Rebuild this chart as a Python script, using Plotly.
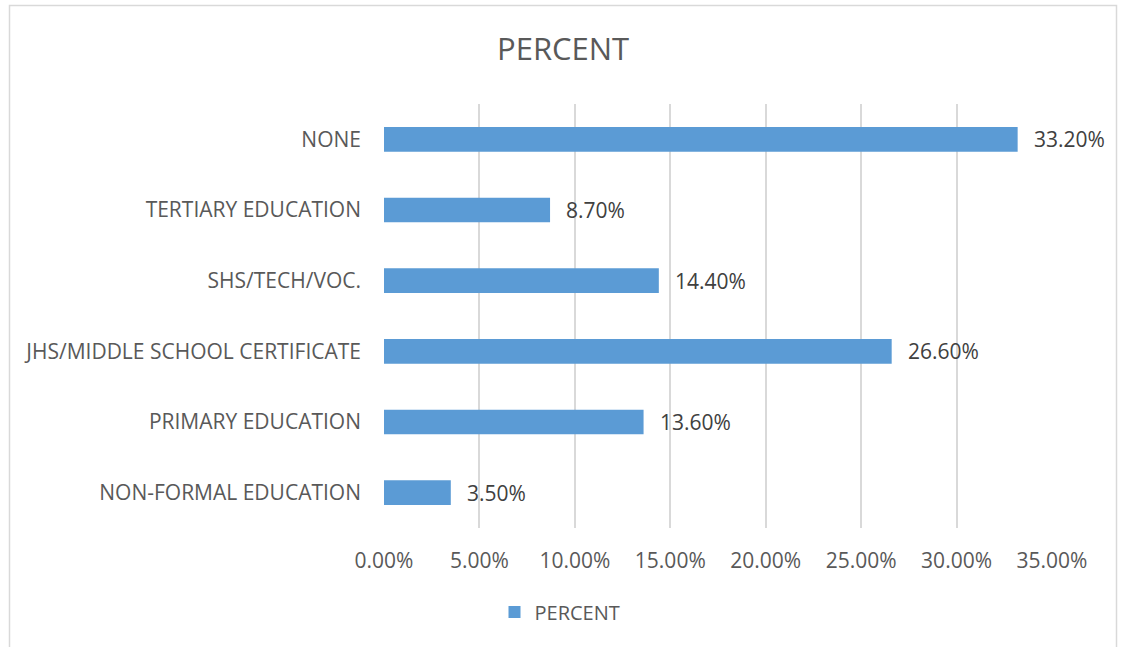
import plotly.graph_objects as go

# Education levels, listed bottom to top as they appear on the axis
categories = [
    "NON-FORMAL EDUCATION",
    "PRIMARY EDUCATION",
    "JHS/MIDDLE SCHOOL CERTIFICATE",
    "SHS/TECH/VOC.",
    "TERTIARY EDUCATION",
    "NONE",
]
percent = [3.5, 13.6, 26.6, 14.4, 8.7, 33.2]
x_ticks = [0, 5, 10, 15, 20, 25, 30, 35]
x_tick_labels = ["0.00%", "5.00%", "10.00%", "15.00%", "20.00%", "25.00%", "30.00%", "35.00%"]

BAR = "#5B9BD5"
TEXT = "#595959"
GRID = "#D9D9D9"
FONT = "Open Sans"

W, H = 1124, 647
L, R, T, B = 384, 72, 104, 119
pw, ph = W - L - R, H - T - B

def px_to_paper_x(px):
    return (px - L) / pw

def px_to_paper_y(py):
    return (H - B - py) / ph

fig = go.Figure()
fig.add_trace(go.Bar(
    x=percent,
    y=categories,
    orientation="h",
    width=0.35,
    marker=dict(color=BAR, line=dict(width=0)),
    name="PERCENT",
    showlegend=True,
))

# value labels to the right of each bar
for c, v in zip(categories, percent):
    fig.add_annotation(
        x=v, y=c, xref="x", yref="y",
        text=f"{v:.2f}%", showarrow=False,
        xanchor="left", yanchor="middle", xshift=14,
        font=dict(family=FONT, size=21, color="#404040"),
    )

# outer chart border
fig.add_shape(
    type="rect", xref="paper", yref="paper",
    x0=px_to_paper_x(9.5), x1=px_to_paper_x(1116.5),
    y0=px_to_paper_y(660), y1=px_to_paper_y(5.5),
    line=dict(color=GRID, width=1.5), fillcolor="rgba(0,0,0,0)",
    layer="below",
)

fig.update_layout(
    width=W, height=H,
    margin=dict(l=L, r=R, t=T, b=B, pad=0),
    paper_bgcolor="white", plot_bgcolor="white",
    font=dict(family=FONT, color=TEXT, size=20),
    title=dict(
        text="PERCENT", x=0.501, xref="container", xanchor="center",
        y=1 - 49 / H, yref="container", yanchor="middle",
        font=dict(family=FONT, size=31, color=TEXT),
    ),
    xaxis=dict(
        range=[0, 35], tickvals=x_ticks, ticktext=x_tick_labels,
        showgrid=True, gridcolor=GRID, gridwidth=1.5,
        zeroline=False, showline=False, ticks="",
        ticklabelstandoff=18,
        tickfont=dict(family=FONT, size=21, color=TEXT),
        fixedrange=True,
    ),
    yaxis=dict(
        categoryorder="array", categoryarray=categories,
        showgrid=False, zeroline=False, showline=False, ticks="",
        ticklabelstandoff=22,
        tickfont=dict(family=FONT, size=21, color=TEXT),
        fixedrange=True,
    ),
    legend=dict(
        orientation="h", x=px_to_paper_x(560), xanchor="center",
        y=px_to_paper_y(612), yanchor="middle",
        font=dict(family=FONT, size=20, color=TEXT),
        itemwidth=30,
    ),
    bargap=0.65,
)

fig.write_html("out.html")
